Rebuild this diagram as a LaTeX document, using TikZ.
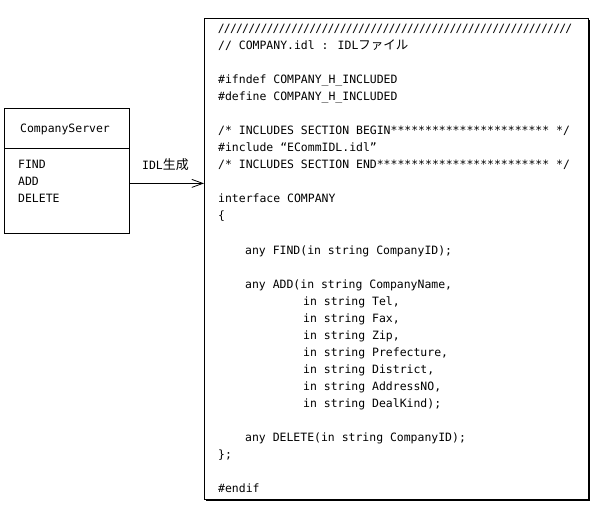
\documentclass[tikz,border=0pt]{standalone}
\usepackage{fontspec}
\newfontfamily\codefont{DejaVu Sans Mono}
\newfontfamily\jpfont{Noto Sans CJK JP}
\usetikzlibrary{arrows.meta,shadows}
\newcommand\slashrow{\foreach \i in {1,...,58}{\makebox[6.1bp]{/}}}
\tikzset{
  codeline/.style={font=\codefont\fontsize{11.5}{13}\selectfont, anchor=base west, inner sep=0pt},
  idlbox/.style={draw, line width=0.8bp, fill=white, anchor=north west, inner sep=0pt,
    drop shadow={shadow xshift=2bp, shadow yshift=-2bp, fill=black, opacity=1}},
  classbox/.style={draw, line width=0.8bp, fill=white, anchor=north west, inner sep=0pt},
  gen/.style={line width=0.8bp, -{Straight Barb[length=11bp,width=8bp,line width=0.8bp]}}
}
\begin{document}
\begin{tikzpicture}[x=1bp,y=-1bp]
\useasboundingbox (0,0) rectangle (597,517);
% class box
\node[classbox, minimum width=125bp, minimum height=125bp] (cls) at (4,108) {};
\draw[line width=0.8bp] ([yshift=-40bp]cls.north west) coordinate (dl) -- ([yshift=-40bp]cls.north east) coordinate (dr);
\node[codeline] (cname) at (20,133) {CompanyServer};
\node[codeline] (m1) at (18,169) {FIND};
\node[codeline] (m2) at (18,186) {ADD};
\node[codeline] (m3) at (18,203) {DELETE};
% IDL box
\node[idlbox, minimum width=384bp, minimum height=481bp] (idl) at (204,18) {};
% arrow
\coordinate (astart) at ([yshift=-12.5bp]cls.east);
\draw[gen] (astart) -- (astart -| idl.west);
\node[codeline] (lbl) at (142,170) {IDL{\jpfont\fontsize{13}{13}\selectfont 生成}};
% code
\node[codeline] (c01) at (218,33) {\slashrow};
\node[codeline] (c02) at (218,50) {// COMPANY.idl : IDL{\jpfont\fontsize{12.5}{13}\selectfont ファイル}};
\node[codeline] (c03) at (218,84) {\#ifndef COMPANY\_H\_INCLUDED};
\node[codeline] (c04) at (218,101) {\#define COMPANY\_H\_INCLUDED};
\node[codeline] (c05) at (218,135) {/* INCLUDES SECTION BEGIN*********************** */};
\node[codeline] (c06) at (218,152) {\#include “ECommIDL.idl”};
\node[codeline] (c07) at (218,169) {/* INCLUDES SECTION END************************* */};
\node[codeline] (c08) at (218,203) {interface COMPANY};
\node[codeline] (c09) at (218,220) {\{};
\node[codeline] (c10) at (245,254) {any FIND(in string CompanyID);};
\node[codeline] (c11) at (245,288) {any ADD(in string CompanyName,};
\node[codeline] (c12) at (303,305) {in string Tel,};
\node[codeline] (c13) at (303,322) {in string Fax,};
\node[codeline] (c14) at (303,339) {in string Zip,};
\node[codeline] (c15) at (303,356) {in string Prefecture,};
\node[codeline] (c16) at (303,373) {in string District,};
\node[codeline] (c17) at (303,390) {in string AddressNO,};
\node[codeline] (c18) at (303,407) {in string DealKind);};
\node[codeline] (c19) at (245,441) {any DELETE(in string CompanyID);};
\node[codeline] (c20) at (218,458) {\};};
\node[codeline] (c21) at (218,492) {\#endif};
\end{tikzpicture}
\end{document}
